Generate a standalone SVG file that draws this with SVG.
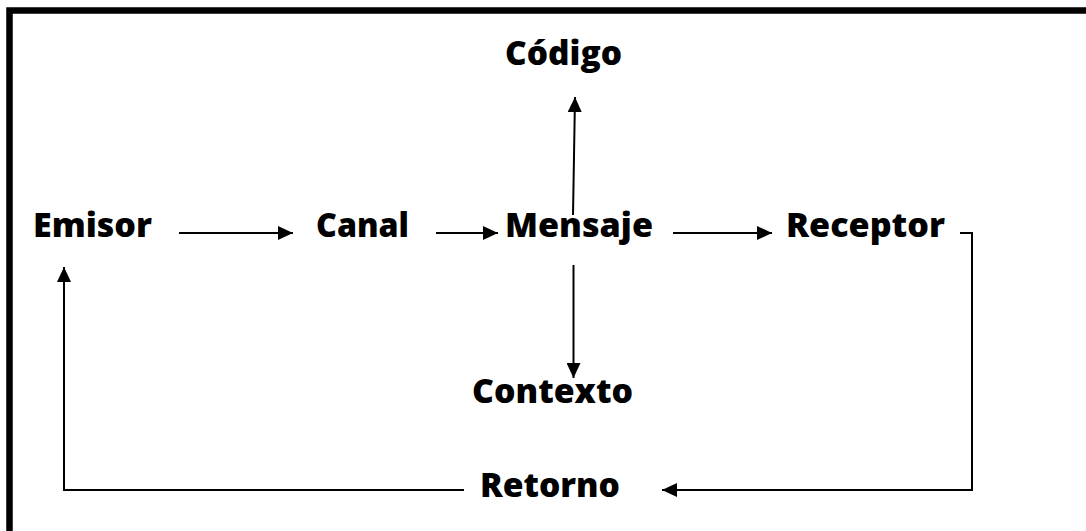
<svg xmlns="http://www.w3.org/2000/svg" width="1086" height="531" viewBox="0 0 1086 531">
  <style>
    .lbl { font-family: "Open Sans", "Liberation Sans", sans-serif; font-weight: 800; font-size: 33px; fill: #000; }
    .conn { fill: none; stroke: #000; stroke-width: 2; }
  </style>
  <defs>
    <marker id="arrow" markerUnits="userSpaceOnUse" markerWidth="15" markerHeight="14" refX="15" refY="7" orient="auto">
      <path d="M0,0 L15,7 L0,14 z" fill="#000"/>
    </marker>
  </defs>
  <rect x="0" y="0" width="1086" height="531" fill="#fff"/>
  <rect id="frame" x="9.5" y="10.5" width="1200" height="600" fill="none" stroke="#000" stroke-width="6.5"/>

  <g id="connectors">
    <path class="conn" d="M179,233 H293" marker-end="url(#arrow)"/>
    <path class="conn" d="M436,233 H498" marker-end="url(#arrow)"/>
    <path class="conn" d="M673,233 H772" marker-end="url(#arrow)"/>
    <path class="conn" d="M960,233 H972 V490 H662" marker-end="url(#arrow)"/>
    <path class="conn" d="M464,490 H64 V267" marker-end="url(#arrow)"/>
    <path class="conn" d="M573,215 L575,97" marker-end="url(#arrow)"/>
    <path class="conn" d="M573.5,265 V378" marker-end="url(#arrow)"/>
  </g>

  <g id="codigo"><text class="lbl" x="505" y="65" textLength="117" lengthAdjust="spacingAndGlyphs">Código</text></g>
  <g id="emisor"><text class="lbl" x="33" y="237" textLength="119" lengthAdjust="spacingAndGlyphs">Emisor</text></g>
  <g id="canal"><text class="lbl" x="316" y="237" textLength="93" lengthAdjust="spacingAndGlyphs">Canal</text></g>
  <g id="mensaje"><text class="lbl" x="505" y="237" textLength="148" lengthAdjust="spacingAndGlyphs">Mensaje</text></g>
  <g id="receptor"><text class="lbl" x="786" y="237" textLength="159" lengthAdjust="spacingAndGlyphs">Receptor</text></g>
  <g id="contexto"><text class="lbl" x="472" y="403" textLength="161" lengthAdjust="spacingAndGlyphs">Contexto</text></g>
  <g id="retorno"><text class="lbl" x="480" y="497" textLength="140" lengthAdjust="spacingAndGlyphs">Retorno</text></g>
</svg>
